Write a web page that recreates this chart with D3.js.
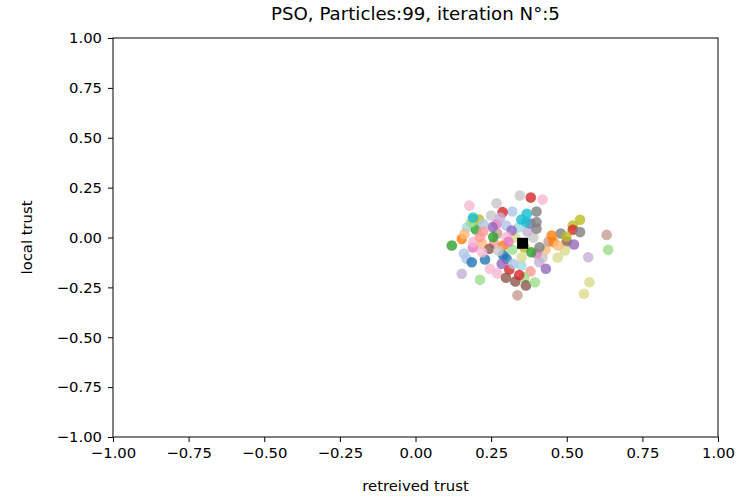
<!DOCTYPE html>
<html>
<head>
<meta charset="utf-8">
<script src="https://cdn.jsdelivr.net/npm/d3@7"></script>
<style>
  body { margin: 0; background: #fff; }
  text { font-family: "DejaVu Sans", sans-serif; fill: #000; }
</style>
</head>
<body>
<svg id="chart" width="749" height="497"></svg>
<script>
// particle positions (retreived trust, local trust)
// first block: particles partly hidden in the dense centre, drawn first
const partX = [
  0.33, 0.36, 0.39, 0.43, 0.44, 0.34, 0.37, 0.30, 0.22, 0.26,
  0.19, 0.35, 0.38, 0.27, 0.32, 0.48, 0.50, 0.47, 0.25, 0.32,
  0.40, 0.21, 0.17, 0.23, 0.36, 0.42, 0.29, 0.40, 0.35, 0.52,
  0.45, 0.20, 0.16, 0.31, 0.27, 0.33, 0.38,
  0.345, 0.381, 0.42, 0.178, 0.268, 0.288, 0.191, 0.184, 0.368, 0.366,
  0.40, 0.40, 0.268, 0.255, 0.318, 0.224, 0.544, 0.52, 0.544, 0.632,
  0.637, 0.524, 0.494, 0.456, 0.471, 0.499, 0.571, 0.575, 0.557, 0.12,
  0.153, 0.162, 0.191, 0.213, 0.257, 0.244, 0.22, 0.301, 0.169, 0.186,
  0.153, 0.213, 0.246, 0.29, 0.301, 0.285, 0.323, 0.351, 0.383, 0.41,
  0.409, 0.431, 0.299, 0.343, 0.365, 0.395, 0.337, 0.307, 0.274, 0.224,
  0.28, 0.19
];
const partY = [
  0.00, -0.05, 0.00, -0.06, -0.02, 0.05, 0.03, 0.06, -0.03, -0.03,
  -0.05, -0.14, -0.17, -0.18, -0.06, 0.02, -0.02, -0.10, 0.11, 0.13,
  0.13, 0.09, 0.05, -0.11, -0.20, -0.10, -0.04, -0.08, 0.09, 0.06,
  0.01, 0.04, -0.08, -0.16, 0.02, -0.22, 0.07,
  0.21, 0.20, 0.19, 0.16, 0.172, 0.127, 0.089, 0.075, 0.119, 0.077,
  0.077, 0.044, 0.068, 0.052, 0.035, 0.068, 0.089, 0.039, 0.027, 0.013,
  -0.062, -0.035, -0.065, -0.023, -0.04, 0.005, -0.099, -0.224, -0.282, -0.04,
  -0.007, 0.018, -0.023, 0.002, 0.002, -0.057, -0.074, 0.002, -0.107, -0.124,
  -0.182, -0.212, -0.157, -0.089, -0.107, -0.132, -0.132, -0.099, -0.074, -0.049,
  -0.124, -0.157, -0.202, -0.188, -0.24, -0.224, -0.29, -0.022, -0.066, 0.03,
  0.10, 0.10
];
// index into the tab20 palette for each particle
const partColor = [
  17, 16, 15, 3, 11, 19, 9, 1, 3, 7,
  12, 19, 7, 13, 5, 14, 10, 17, 15, 1,
  14, 16, 19, 0, 5, 15, 2, 12, 18, 16,
  2, 4, 1, 6, 11, 10, 8,
  15, 6, 13, 13, 15, 6, 16, 5, 18, 18,
  14, 14, 12, 8, 8, 1, 16, 6, 14, 11,
  5, 8, 17, 2, 3, 16, 9, 17, 17, 4,
  2, 3, 13, 7, 4, 10, 13, 13, 1, 0,
  9, 5, 13, 0, 0, 8, 1, 17, 4, 14,
  9, 8, 10, 6, 10, 5, 11, 12, 15, 7,
  9, 18
];
// global best
const bestX = [0.354];
const bestY = [-0.029];

const xTicks = [-1, -0.75, -0.5, -0.25, 0, 0.25, 0.5, 0.75, 1];
const yTicks = [-1, -0.75, -0.5, -0.25, 0, 0.25, 0.5, 0.75, 1];

const tab20 = ["#1f77b4", "#aec7e8", "#ff7f0e", "#ffbb78", "#2ca02c", "#98df8a",
  "#d62728", "#ff9896", "#9467bd", "#c5b0d5", "#8c564b", "#c49c94", "#e377c2",
  "#f7b6d2", "#7f7f7f", "#c7c7c7", "#bcbd22", "#dbdb8d", "#17becf", "#9edae5"];

const margin = { left: 113, right: 31, top: 38, bottom: 60 };
const W = 749, H = 497;

const svg = d3.select('#chart');

const x = d3.scaleLinear().domain([-1, 1]).range([margin.left, W - margin.right]);
const y = d3.scaleLinear().domain([-1, 1]).range([H - margin.bottom, margin.top]);

const fmt = d => d3.format('.2f')(d).replace('-', '\u2212');

// axes
const xAxis = svg.append('g')
  .attr('transform', `translate(0,${H - margin.bottom})`)
  .call(d3.axisBottom(x).tickValues(xTicks).tickFormat(fmt).tickSizeOuter(0).tickSize(5).tickPadding(5));
const yAxis = svg.append('g')
  .attr('transform', `translate(${margin.left},0)`)
  .call(d3.axisLeft(y).tickValues(yTicks).tickFormat(fmt).tickSizeOuter(0).tickSize(5).tickPadding(6));

[xAxis, yAxis].forEach(g => {
  g.select('.domain').remove();
  g.selectAll('.tick line').attr('stroke', '#000').attr('stroke-width', 1);
  g.selectAll('.tick text').style('font-size', '14.8px').attr('fill', '#222');
});

// frame
svg.append('rect')
  .attr('x', x(-1)).attr('y', y(1))
  .attr('width', x(1) - x(-1)).attr('height', y(-1) - y(1))
  .attr('fill', 'none').attr('stroke', '#000').attr('stroke-width', 1);

// particles
const pts = partX.map((d, i) => ({ x: d, y: partY[i], c: tab20[partColor[i]] }));
svg.append('g').selectAll('circle')
  .data(pts)
  .join('circle')
  .attr('cx', d => x(d.x))
  .attr('cy', d => y(d.y))
  .attr('r', 5.3)
  .attr('fill', d => d.c)
  .attr('fill-opacity', 0.8);

// best position
const sq = 11;
svg.append('g').selectAll('rect')
  .data(bestX.map((d, i) => ({ x: d, y: bestY[i] })))
  .join('rect')
  .attr('x', d => x(d.x) - sq / 2)
  .attr('y', d => y(d.y) - sq / 2)
  .attr('width', sq).attr('height', sq)
  .attr('fill', '#000');

// labels
svg.append('text')
  .attr('x', (x(-1) + x(1)) / 2).attr('y', 20)
  .attr('text-anchor', 'middle')
  .attr('fill', '#222')
  .style('font-size', '18.2px')
  .text('PSO, Particles:99, iteration N°:5');

svg.append('text')
  .attr('x', (x(-1) + x(1)) / 2).attr('y', 491)
  .attr('text-anchor', 'middle')
  .attr('fill', '#222')
  .style('font-size', '14.8px')
  .text('retreived trust');

svg.append('text')
  .attr('transform', `translate(32,${(y(-1) + y(1)) / 2}) rotate(-90)`)
  .attr('text-anchor', 'middle')
  .attr('fill', '#222')
  .style('font-size', '14.8px')
  .text('local trust');
</script>
</body>
</html>
